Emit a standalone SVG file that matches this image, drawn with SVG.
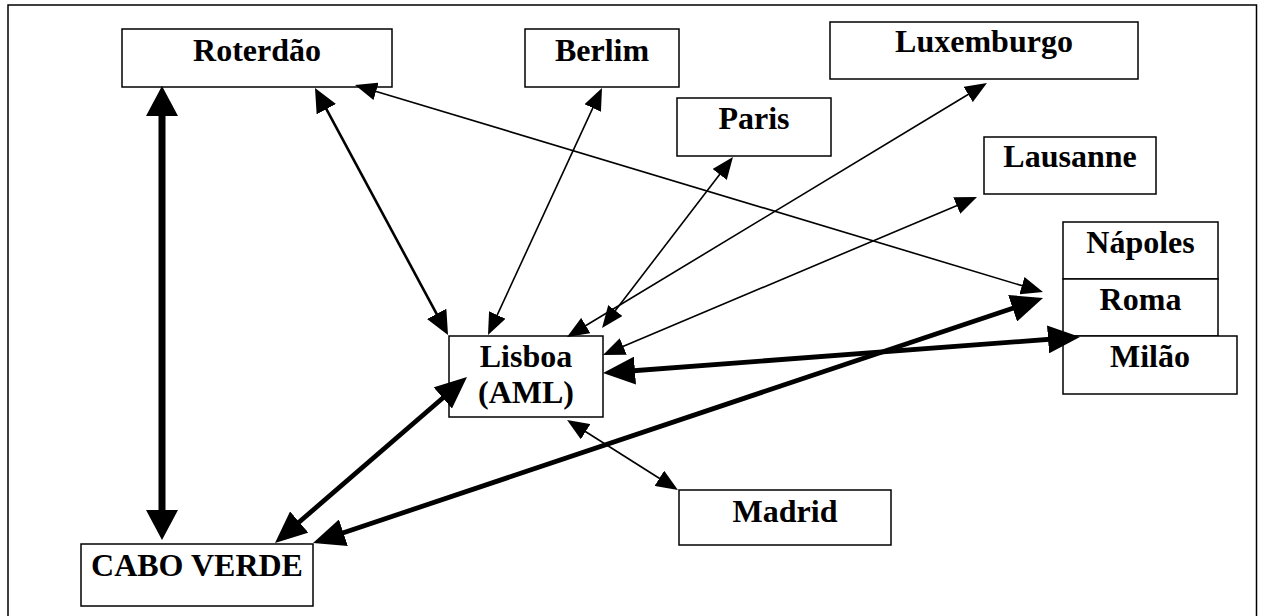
<svg xmlns="http://www.w3.org/2000/svg" width="1264" height="616" viewBox="0 0 1264 616">
<style>
.box{fill:#fff;stroke:#000;stroke-width:1.5}
.lbl{font-family:"Liberation Serif","Times New Roman",serif;font-weight:bold;font-size:32px;fill:#000;text-anchor:middle}
.c{stroke:#000;fill:none}
.thin{stroke-width:1.6;marker-start:url(#aS);marker-end:url(#aS)}
.med{stroke-width:2.6;marker-start:url(#aM);marker-end:url(#aM)}
.thick{stroke-width:4.8;marker-start:url(#aL);marker-end:url(#aL)}
.vthick{stroke-width:7;marker-start:url(#aX);marker-end:url(#aX)}
</style>
<defs>
<marker id="aS" viewBox="0 0 22 18" refX="12" refY="9" markerWidth="22" markerHeight="18" markerUnits="userSpaceOnUse" orient="auto-start-reverse"><path d="M0,0 L22,9 L0,18 z" fill="#000"/></marker>
<marker id="aM" viewBox="0 0 24 22" refX="13" refY="11" markerWidth="24" markerHeight="22" markerUnits="userSpaceOnUse" orient="auto-start-reverse"><path d="M0,0 L24,11 L0,22 z" fill="#000"/></marker>
<marker id="aL" viewBox="0 0 32 28" refX="18" refY="14" markerWidth="32" markerHeight="28" markerUnits="userSpaceOnUse" orient="auto-start-reverse"><path d="M0,0 L32,14 L0,28 z" fill="#000"/></marker>
<marker id="aX" viewBox="0 0 30 32" refX="16" refY="16" markerWidth="30" markerHeight="32" markerUnits="userSpaceOnUse" orient="auto-start-reverse"><path d="M0,0 L30,16 L0,32 z" fill="#000"/></marker>
</defs>
<rect width="1264" height="616" fill="#fff"/>
<path d="M8,625 V5 H1256.5 V625" fill="none" stroke="#000" stroke-width="1.5"/>
<g id="roterdao"><rect class="box" x="122" y="29" width="270" height="58"/><text class="lbl" x="257" y="61">Roterdão</text></g>
<g id="berlim"><rect class="box" x="525" y="29" width="154" height="58"/><text class="lbl" x="602" y="61">Berlim</text></g>
<g id="paris"><rect class="box" x="677" y="98" width="154" height="58"/><text class="lbl" x="754" y="129">Paris</text></g>
<g id="luxemburgo"><rect class="box" x="830" y="22" width="308" height="57"/><text class="lbl" x="984" y="52">Luxemburgo</text></g>
<g id="lausanne"><rect class="box" x="984" y="137" width="172" height="57"/><text class="lbl" x="1070" y="167">Lausanne</text></g>
<g id="napoles"><rect class="box" x="1063" y="222" width="155" height="57"/><text class="lbl" x="1140.5" y="253">Nápoles</text></g>
<g id="roma"><rect class="box" x="1063" y="279" width="155" height="57"/><text class="lbl" x="1140.5" y="310">Roma</text></g>
<g id="milao"><rect class="box" x="1063" y="336" width="174" height="58"/><text class="lbl" x="1150" y="367">Milão</text></g>
<g id="lisboa"><rect class="box" x="449" y="336" width="154" height="81"/><text class="lbl" x="526" y="367">Lisboa</text><text class="lbl" x="526" y="403">(AML)</text></g>
<g id="madrid"><rect class="box" x="679" y="490" width="212" height="55"/><text class="lbl" x="785" y="522">Madrid</text></g>
<g id="caboverde"><rect class="box" x="81" y="544" width="232" height="62"/><text class="lbl" x="197" y="576">CABO VERDE</text></g>
<g id="connectors">
<line class="c vthick" x1="162" y1="100" x2="162" y2="526"/>
<line class="c med" x1="320.2" y1="97.7" x2="442.8" y2="325.3"/>
<line class="c thin" x1="597.8" y1="97.1" x2="492.2" y2="325.9"/>
<line class="c thin" x1="726.9" y1="164.9" x2="608.1" y2="320.1"/>
<line class="c thin" x1="978.4" y1="88.2" x2="575.6" y2="331.8"/>
<line class="c thin" x1="967.8" y1="200.9" x2="612.2" y2="351.1"/>
<line class="c thin" x1="364.6" y1="87.9" x2="1033.4" y2="289.1"/>
<line class="c thick" x1="617" y1="372" x2="1066" y2="338"/>
<line class="c thick" x1="326.3" y1="538.5" x2="1029.7" y2="302.5"/>
<line class="c thick" x1="456.4" y1="386.2" x2="285.6" y2="533.8"/>
<line class="c thin" x1="575.5" y1="425.3" x2="669.5" y2="484.7"/>
</g>
</svg>
